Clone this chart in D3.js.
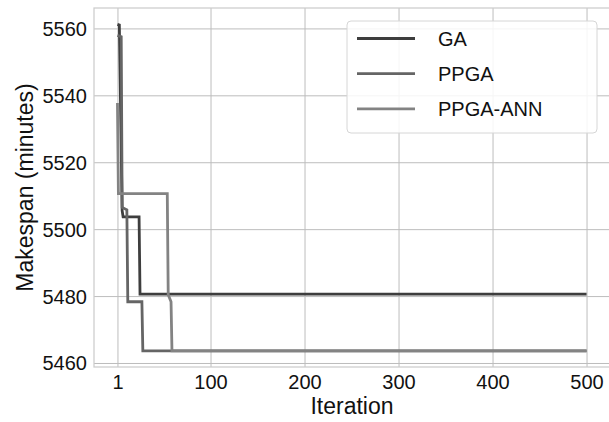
<!DOCTYPE html>
<html>
<head>
<meta charset="utf-8">
<script src="https://cdn.jsdelivr.net/npm/d3@7"></script>
<style>
  body { margin: 0; background: #fff; }
  text { font-family: 'Liberation Sans', Arial, sans-serif; fill: #111; }
</style>
</head>
<body>
<script>
// breakpoints: [iteration, makespan]
var gaData = [[1, 5561.2], [3, 5561.0], [6, 5505.5], [7, 5503.7], [24, 5503.7], [25, 5480.6], [500, 5480.6]];
var ppgaData = [[1, 5557.9], [5, 5557.5], [6, 5506.5], [11, 5505.8], [12, 5478.3], [27, 5478.3], [28, 5463.6], [500, 5463.6]];
var ppgaAnnData = [[1, 5537.7], [2, 5510.6], [54, 5510.6], [55, 5480.4], [58, 5478.3], [59, 5463.6], [500, 5463.6]];

var seriesNames = ['GA', 'PPGA', 'PPGA-ANN'];
var seriesColors = ['#3e3e3e', '#656565', '#838383'];
var xTicks = [1, 100, 200, 300, 400, 500];
var yTicks = [5460, 5480, 5500, 5520, 5540, 5560];

var canvasWidth = 609;
var canvasHeight = 422;
var margin = { top: 8, right: -1, bottom: 55, left: 94 };
var width = canvasWidth - margin.left - margin.right;
var height = canvasHeight - margin.top - margin.bottom;

var svg = d3.select('body')
    .append('svg')
    .attr('width', canvasWidth)
    .attr('height', canvasHeight);

var g = svg.append('g')
    .attr('transform', 'translate(' + margin.left + ',' + margin.top + ')');

var xScale = d3.scaleLinear().domain([-23.95, 524.95]).range([0, width]);
var yScale = d3.scaleLinear().domain([5458.8, 5566.1]).range([height, 0]);

// grid
g.append('g')
    .attr('class', 'grid')
    .attr('transform', 'translate(0,' + height + ')')
    .call(d3.axisBottom(xScale).tickValues(xTicks).tickSize(-height).tickFormat(''))
    .call(function (s) { s.select('.domain').remove(); });
g.append('g')
    .attr('class', 'grid')
    .call(d3.axisLeft(yScale).tickValues(yTicks).tickSize(-width).tickFormat(''))
    .call(function (s) { s.select('.domain').remove(); });
g.selectAll('.grid line').attr('stroke', '#bdbdbd').attr('stroke-width', 1);

// frame
g.append('rect')
    .attr('x', 0).attr('y', 0)
    .attr('width', width).attr('height', height)
    .attr('fill', 'none')
    .attr('stroke', '#cccccc')
    .attr('stroke-width', 1.25);

// tick labels
var xAxis = g.append('g')
    .attr('transform', 'translate(0,' + height + ')')
    .call(d3.axisBottom(xScale).tickValues(xTicks).tickSize(0).tickPadding(22).tickFormat(d3.format('d')));
xAxis.select('.domain').remove();
xAxis.selectAll('text').attr('font-size', '20px').attr('fill', '#111').attr('dy', 0);

var yAxis = g.append('g')
    .call(d3.axisLeft(yScale).tickValues(yTicks).tickSize(0).tickPadding(7).tickFormat(d3.format('d')));
yAxis.select('.domain').remove();
yAxis.selectAll('text').attr('font-size', '20px').attr('fill', '#111').attr('dy', '0.35em');

// axis titles
svg.append('text')
    .attr('x', margin.left + width / 2)
    .attr('y', 414)
    .attr('text-anchor', 'middle')
    .attr('font-size', '23px')
    .text('Iteration');

svg.append('text')
    .attr('transform', 'translate(33,' + (margin.top + height / 2) + ') rotate(-90)')
    .attr('text-anchor', 'middle')
    .attr('font-size', '23px')
    .text('Makespan (minutes)');

// lines
var line = d3.line()
    .x(function (d) { return xScale(d[0]); })
    .y(function (d) { return yScale(d[1]); });

var allSeries = [gaData, ppgaData, ppgaAnnData];
allSeries.forEach(function (data, i) {
    g.append('path')
        .datum(data)
        .attr('fill', 'none')
        .attr('stroke', seriesColors[i])
        .attr('stroke-width', 2.8)
        .attr('stroke-linejoin', 'miter')
        .attr('d', line);
});

// legend
var legend = svg.append('g').attr('transform', 'translate(347,21)');
legend.append('rect')
    .attr('width', 250)
    .attr('height', 112)
    .attr('rx', 4)
    .attr('fill', 'rgba(255,255,255,0.85)')
    .attr('stroke', '#d6d6d6');

seriesNames.forEach(function (name, i) {
    var yy = 17.5 + i * 35.2;
    legend.append('line')
        .attr('x1', 10).attr('x2', 68)
        .attr('y1', yy).attr('y2', yy)
        .attr('stroke', seriesColors[i])
        .attr('stroke-width', 2.8);
    legend.append('text')
        .attr('x', 91)
        .attr('y', yy)
        .attr('dy', '0.35em')
        .attr('font-size', '20px')
        .text(name);
});
</script>
</body>
</html>
